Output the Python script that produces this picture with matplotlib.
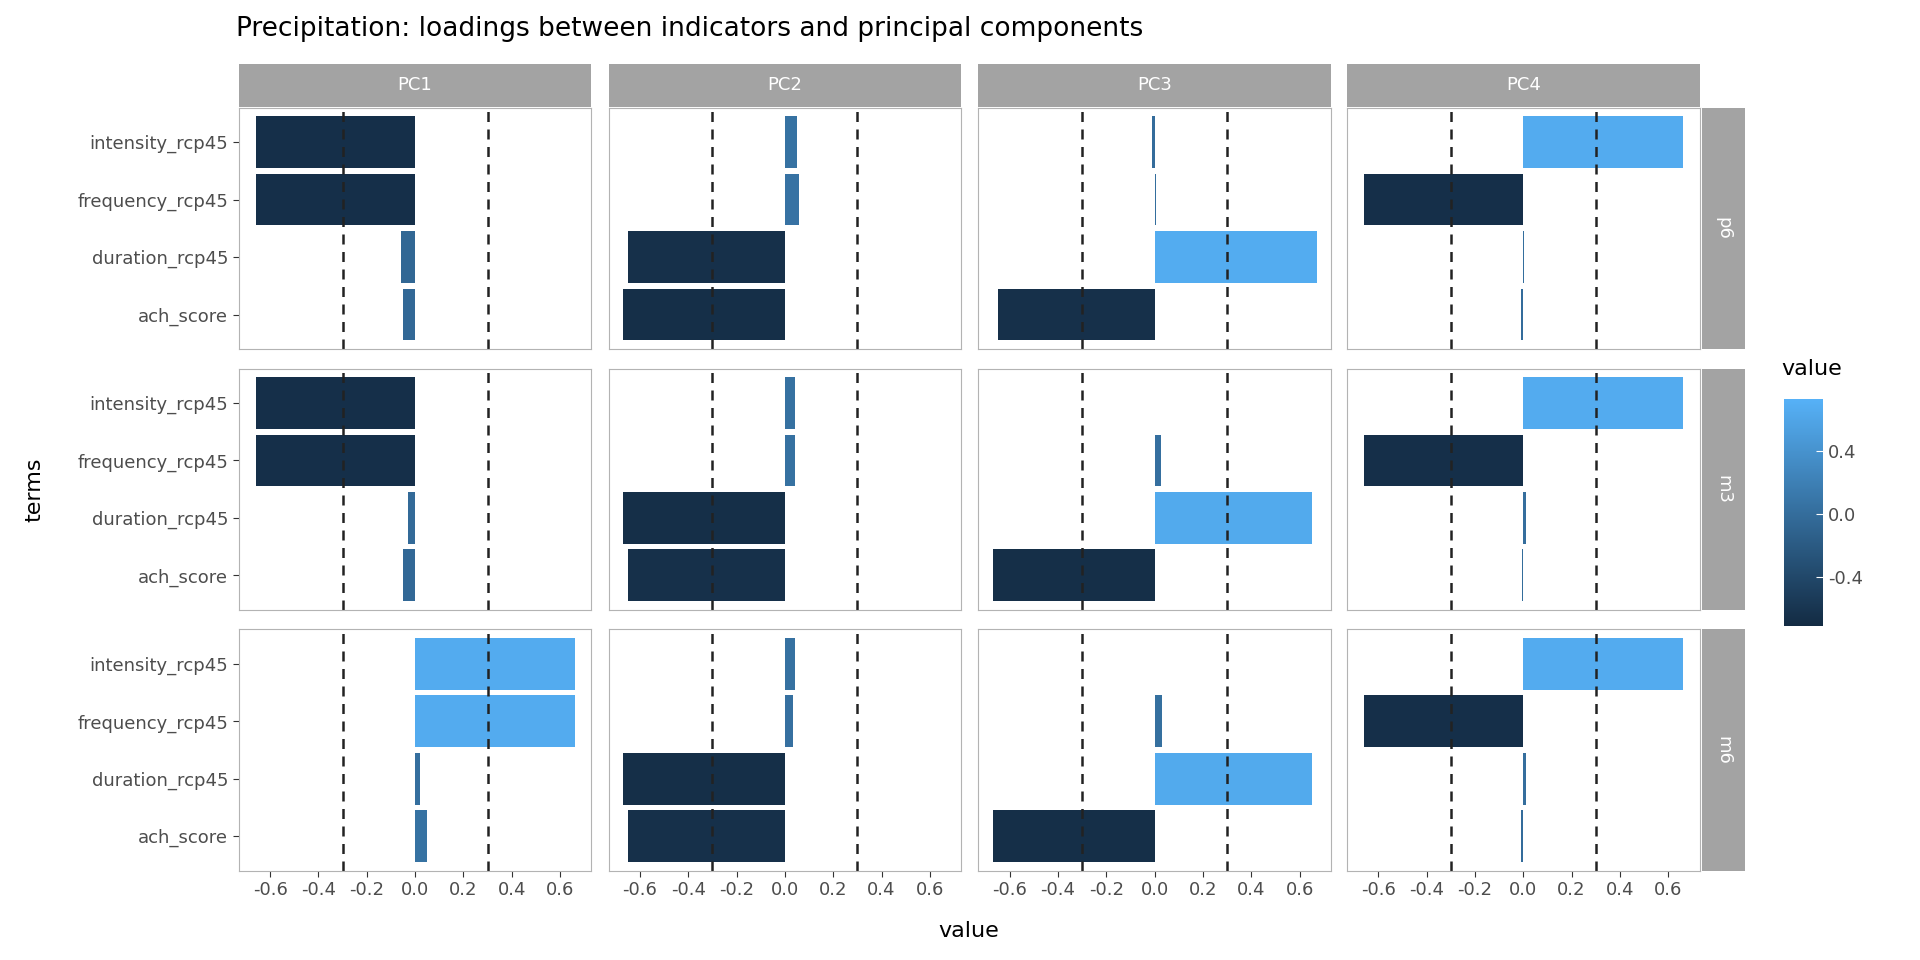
import matplotlib
matplotlib.use("Agg")
import matplotlib.pyplot as plt
import numpy as np
from matplotlib.colors import LinearSegmentedColormap, Normalize
from matplotlib.colorbar import ColorbarBase

terms = ["intensity_rcp45", "frequency_rcp45", "duration_rcp45", "ach_score"]
components = ["PC1", "PC2", "PC3", "PC4"]
groups = ["p6", "m3", "m6"]
# values[group][component] -> list over terms
values = {
    "p6": {"PC1": [-0.66, -0.66, -0.06, -0.05], "PC2": [0.05, 0.06, -0.65, -0.67],
           "PC3": [-0.01, 0.005, 0.67, -0.65], "PC4": [0.66, -0.66, 0.005, -0.01]},
    "m3": {"PC1": [-0.66, -0.66, -0.03, -0.05], "PC2": [0.04, 0.04, -0.67, -0.65],
           "PC3": [0.0, 0.025, 0.65, -0.67], "PC4": [0.66, -0.66, 0.01, -0.005]},
    "m6": {"PC1": [0.66, 0.66, 0.02, 0.05], "PC2": [0.04, 0.035, -0.67, -0.65],
           "PC3": [0.002, 0.03, 0.65, -0.67], "PC4": [0.66, -0.66, 0.01, -0.01]},
}

W, H = 1568, 784
fig = plt.figure(figsize=(19.2, 9.6), dpi=100)
cmap = LinearSegmentedColormap.from_list("gg", ["#132B43", "#56B1F7"])
norm = Normalize(vmin=-0.71, vmax=0.73)
xs = [195, 497, 799, 1100]
ys = [88, 301, 514]
pw, ph = 288, 197
def fx(px): return px / W
def fy(py): return 1 - py / H
strip = "#A3A3A3"
border = "#B3B3B3"
fs = 13
for r, g in enumerate(groups):
    for c, comp in enumerate(components):
        ax = fig.add_axes([fx(xs[c]), fy(ys[r] + ph), pw / W, ph / H])
        v = np.array(values[g][comp])
        ypos = np.arange(len(terms))[::-1]
        ax.barh(ypos, v, height=0.9, color=cmap(norm(v)))
        for xv in (-0.3, 0.3):
            ax.axvline(xv, color="#222222", ls=(0, (4, 3)), lw=1.8)
        ax.set_xlim(-0.73, 0.73)
        ax.set_ylim(-0.6, 3.6)
        for s in ax.spines.values():
            s.set_color(border)
        ax.tick_params(colors="#4D4D4D", labelsize=fs, length=4, color="#333333")
        if c == 0:
            ax.set_yticks(ypos)
            ax.set_yticklabels(terms, color="#4D4D4D", fontsize=fs)
        else:
            ax.set_yticks([])
        if r == 2:
            ax.set_xticks(np.arange(-0.6, 0.61, 0.2))
            ax.set_xticklabels(["-0.6", "-0.4", "-0.2", "0.0", "0.2", "0.4", "0.6"])
        else:
            ax.set_xticks([])
        if r == 0:
            sa = fig.add_axes([fx(xs[c]), fy(87), pw / W, 35 / H])
            sa.set_facecolor(strip)
            sa.set_xticks([]); sa.set_yticks([])
            for s in sa.spines.values(): s.set_visible(False)
            sa.text(0.5, 0.5, comp, color="white", fontsize=fs, ha="center", va="center", transform=sa.transAxes)
        if c == 3:
            sa = fig.add_axes([fx(1390), fy(ys[r] + ph), 35 / W, ph / H])
            sa.set_facecolor(strip)
            sa.set_xticks([]); sa.set_yticks([])
            for s in sa.spines.values(): s.set_visible(False)
            sa.text(0.5, 0.5, g, color="white", fontsize=fs, ha="center", va="center", rotation=-90, transform=sa.transAxes)

fig.text(fx(193), fy(24), "Precipitation: loadings between indicators and principal components",
         fontsize=19, va="center", ha="left")
fig.text(fx(791), fy(760), "value", fontsize=16, ha="center", va="center")
fig.text(fx(28), fy(400), "terms", fontsize=16, ha="center", va="center", rotation=90)
fig.text(fx(1455), fy(301), "value", fontsize=16, ha="left", va="center")
cax = fig.add_axes([fx(1457), fy(511), 32 / W, 185 / H])
cb = ColorbarBase(cax, cmap=cmap, norm=norm, ticks=[-0.4, 0.0, 0.4])
cb.ax.set_yticklabels(["-0.4", "0.0", "0.4"])
cb.outline.set_visible(False)
cb.ax.tick_params(labelsize=fs, colors="#4D4D4D", length=5, direction="in", color="white")
fig.savefig("out.png", dpi=100, facecolor="white")
